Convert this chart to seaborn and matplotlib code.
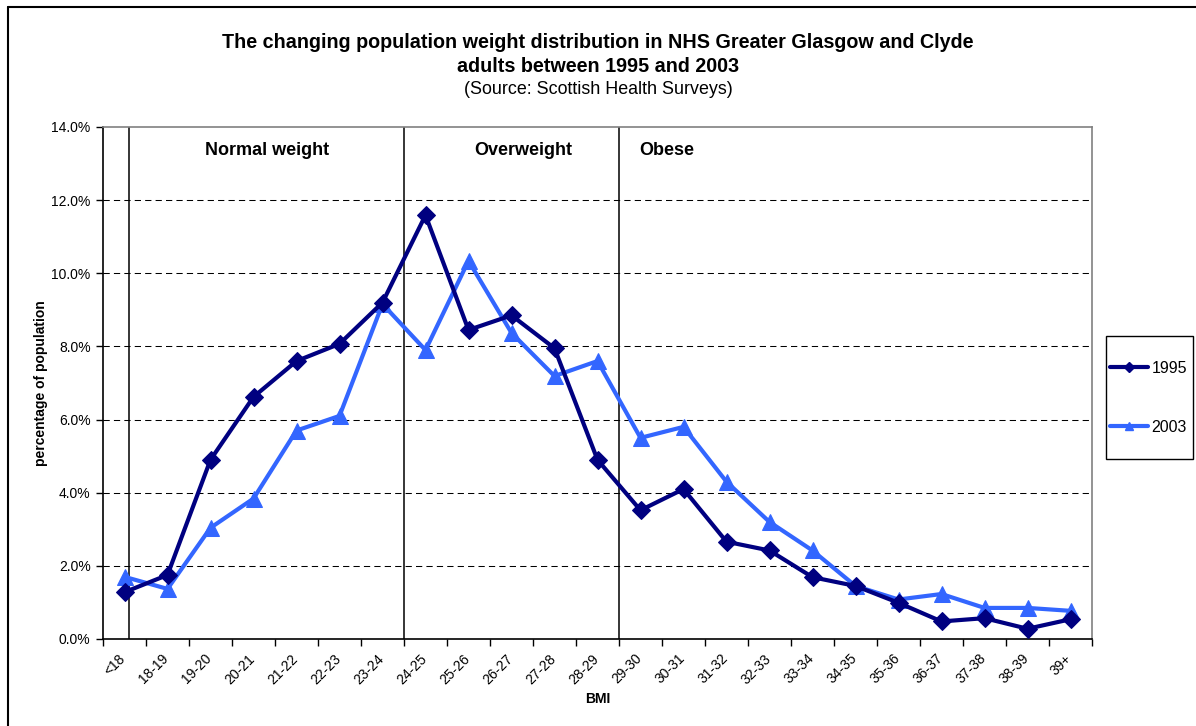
import matplotlib
matplotlib.use("Agg")
import matplotlib.pyplot as plt
import matplotlib.transforms as mtransforms
import seaborn as sns
import pandas as pd
from matplotlib.ticker import FixedLocator, FuncFormatter
from matplotlib.lines import Line2D
from matplotlib.patches import Rectangle

# --- data (percent of population) ---
bmi_bands = ["<18", "18-19", "19-20", "20-21", "21-22", "22-23", "23-24",
             "24-25", "25-26", "26-27", "27-28", "28-29", "29-30", "30-31",
             "31-32", "32-33", "33-34", "34-35", "35-36", "36-37", "37-38",
             "38-39", "39+"]
pct_1995 = [1.28, 1.75, 4.9, 6.62, 7.6, 8.07, 9.2, 11.59, 8.45, 8.85, 7.95,
            4.9, 3.52, 4.1, 2.66, 2.42, 1.69, 1.45, 0.99, 0.48, 0.57, 0.28, 0.54]
pct_2003 = [1.7, 1.37, 3.04, 3.84, 5.7, 6.1, 9.16, 7.9, 10.34, 8.37, 7.19,
            7.6, 5.5, 5.8, 4.3, 3.2, 2.42, 1.45, 1.08, 1.23, 0.85, 0.85, 0.77]
series_names = ["1995", "2003"]
zone_names = ["Normal weight", "Overweight", "Obese"]

df = pd.DataFrame({"BMI": bmi_bands, "1995": pct_1995, "2003": pct_2003})

sns.set_style("white")
plt.rcParams["font.family"] = ["Liberation Sans", "DejaVu Sans"]
plt.rcParams["text.color"] = "black"
plt.rcParams["axes.labelcolor"] = "black"
plt.rcParams["xtick.color"] = "black"
plt.rcParams["ytick.color"] = "black"

fig = plt.figure(figsize=(11.96, 7.26), dpi=100)
ax = fig.add_axes([103 / 1196, 87 / 726, 989 / 1196, 512 / 726])

# dashed gridlines
for yv in [2, 4, 6, 8, 10, 12]:
    ax.axhline(yv, color="black", lw=0.75, ls=(0, (6, 4)), zorder=1)

# zone divider lines
for xv in [0.1, 6.5, 11.5]:
    ax.axvline(xv, color="black", lw=1.1, zorder=2)

sns.lineplot(data=df, x="BMI", y="1995", ax=ax, color="#000080", lw=3,
             marker="D", markersize=9, markeredgecolor="#000080", zorder=4,
             sort=False)
sns.lineplot(data=df, x="BMI", y="2003", ax=ax, color="#3366FF", lw=3,
             marker="^", markersize=11, markeredgecolor="#3366FF", zorder=3,
             sort=False)

ax.set_xlim(-0.5, len(bmi_bands) - 0.5)
ax.set_ylim(0, 14)

# x ticks: marks at the category boundaries, labels at the centres
ax.xaxis.set_major_locator(FixedLocator(range(len(bmi_bands))))
ax.set_xticklabels(bmi_bands, rotation=45, ha="right", va="top",
                   rotation_mode="anchor", fontsize=10)
ax.xaxis.set_minor_locator(FixedLocator([i - 0.5 for i in range(len(bmi_bands) + 1)]))
ax.tick_params(axis="x", which="major", length=0, pad=9)
ax.tick_params(axis="x", which="minor", length=5, width=1, color="black",
               direction="out", bottom=True)

ax.set_yticks([0, 2, 4, 6, 8, 10, 12, 14])
ax.yaxis.set_major_formatter(FuncFormatter(lambda v, p: f"{v:.1f}%"))
ax.tick_params(axis="y", length=5, width=1, color="black", direction="out",
               left=True, labelsize=10, pad=4)

# nudge the rotated category labels a little to the left
shift = mtransforms.ScaledTranslation(-6 / 100, 0, fig.dpi_scale_trans)
for tick in ax.xaxis.get_major_ticks():
    tick.label1.set_transform(tick.label1.get_transform() + shift)

ax.set_xlabel("BMI", fontsize=10, fontweight="bold", labelpad=4)
ax.set_ylabel("percentage of population", fontsize=10, fontweight="bold",
              labelpad=2)

for side in ["left", "bottom"]:
    ax.spines[side].set_color("black")
    ax.spines[side].set_linewidth(1.2)
for side in ["top", "right"]:
    ax.spines[side].set_color("#808080")
    ax.spines[side].set_linewidth(1.2)

# zone names
for name, xv in zip(zone_names, [3.32, 9.27, 12.6]):
    ax.text(xv, 13.37, name, ha="center", va="center", fontsize=13,
            fontweight="bold")

# titles
fig.text(0.5, 1 - 43 / 726,
         "The changing population weight distribution in NHS Greater Glasgow and Clyde",
         ha="center", va="center", fontsize=14.2, fontweight="bold")
fig.text(0.5, 1 - 67 / 726, "adults between 1995 and 2003",
         ha="center", va="center", fontsize=14.2, fontweight="bold")
fig.text(0.5, 1 - 89 / 726, "(Source: Scottish Health Surveys)",
         ha="center", va="center", fontsize=12.9)

# legend: frame drawn separately to get the tall Excel-style box
fig.add_artist(Rectangle((1106 / 1196, 1 - 459 / 726), 87 / 1196, 123 / 726,
                         transform=fig.transFigure, fill=False,
                         edgecolor="black", lw=1.0))
handles = [
    Line2D([], [], color="#000080", lw=3, marker="D", markersize=5),
    Line2D([], [], color="#3366FF", lw=3, marker="^", markersize=6),
]
fig.legend(handles, series_names, loc="center left",
           bbox_to_anchor=(1110 / 1196, 1 - 398 / 726),
           frameon=False, fontsize=11.5, handlelength=2.4, handletextpad=0.2,
           labelspacing=2.75, borderpad=0, borderaxespad=0)

# outer frame (only top and left visible in the original)
fig.add_artist(Line2D([8 / 1196, 1], [1 - 7 / 726, 1 - 7 / 726],
                      transform=fig.transFigure, color="black", lw=1.5))
fig.add_artist(Line2D([8 / 1196, 8 / 1196], [0, 1 - 7 / 726],
                      transform=fig.transFigure, color="black", lw=1.5))

fig.savefig("out.png", dpi=100, facecolor="white")
